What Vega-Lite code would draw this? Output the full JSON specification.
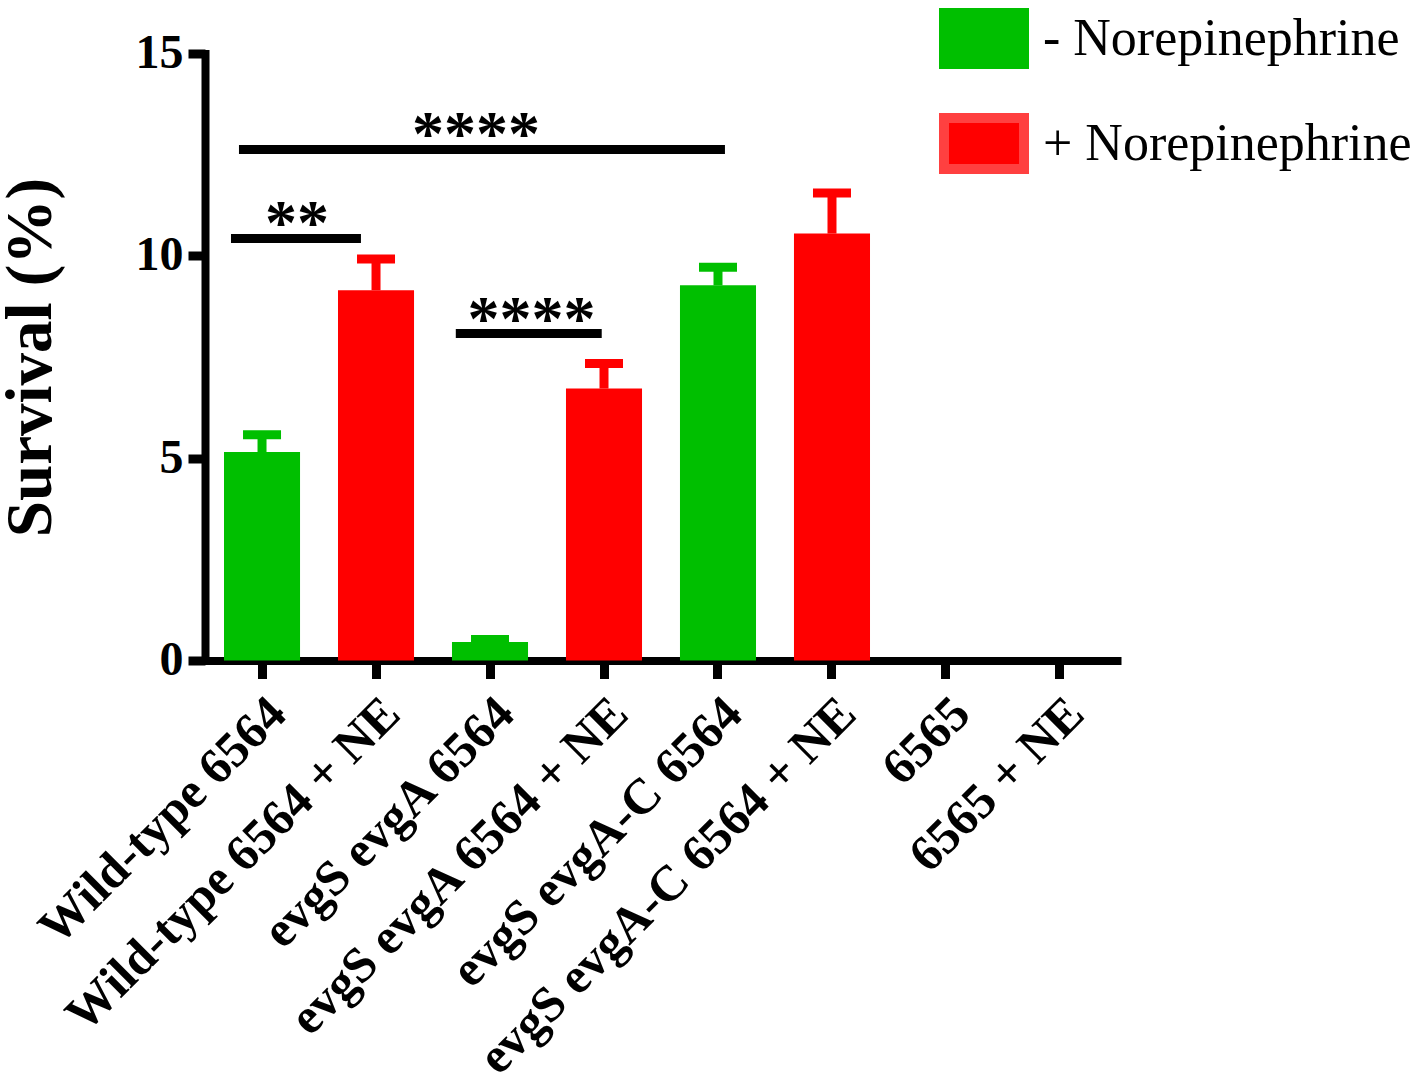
{
  "$schema": "https://vega.github.io/schema/vega-lite/v6.json",
  "autosize": "none",
  "width": 912,
  "height": 607,
  "padding": {"left": 205, "top": 53.5, "right": 306, "bottom": 415.5},
  "background": "white",
  "config": {
    "view": {"stroke": null},
    "font": "Liberation Serif",
    "axis": {"domainColor": "black", "domainWidth": 8, "tickColor": "black", "tickWidth": 9, "grid": false, "labelColor": "black", "titleColor": "black", "labelFont": "Liberation Serif", "titleFont": "Liberation Serif", "labelFontWeight": "bold", "titleFontWeight": "bold", "domainCap": "square"}
  },
  "datasets": {
    "bars": [
      {"strain": "Wild-type 6564", "cond": "- Norepinephrine", "value": 5.15, "upper": 5.58},
      {"strain": "Wild-type 6564 + NE", "cond": "+ Norepinephrine", "value": 9.15, "upper": 9.92},
      {"strain": "evgS evgA 6564", "cond": "- Norepinephrine", "value": 0.46, "upper": 0.52},
      {"strain": "evgS evgA 6564 + NE", "cond": "+ Norepinephrine", "value": 6.72, "upper": 7.34},
      {"strain": "evgS evgA-C 6564", "cond": "- Norepinephrine", "value": 9.27, "upper": 9.72},
      {"strain": "evgS evgA-C 6564 + NE", "cond": "+ Norepinephrine", "value": 10.55, "upper": 11.55},
      {"strain": "6565", "cond": "- Norepinephrine", "value": 0, "upper": null},
      {"strain": "6565 + NE", "cond": "+ Norepinephrine", "value": 0, "upper": null}
    ],
    "sig": [
      {"x1": 0.228, "x2": 1.368, "y": 10.43, "stars": "**", "xm": 0.807},
      {"x1": 0.298, "x2": 4.561, "y": 12.63, "stars": "****", "xm": 2.377},
      {"x1": 2.2, "x2": 3.48, "y": 8.08, "stars": "****", "xm": 2.864}
    ]
  },
  "layer": [
    {
      "data": {"name": "bars"},
      "layer": [
        {
          "mark": {"type": "bar"},
          "encoding": {
            "x": {"field": "strain", "type": "nominal", "sort": null,
              "scale": {"paddingInner": 0.333, "paddingOuter": 0.1667},
              "axis": {"title": null, "labelAngle": -45, "labelAlign": "right", "labelBaseline": "middle", "labelFontSize": 50, "tickSize": 18, "labelPadding": 27, "labelOffset": 16, "labelLimit": 0}},
            "y": {"field": "value", "type": "quantitative",
              "scale": {"domain": [0, 15], "nice": false, "zero": true},
              "axis": {"values": [0, 5, 10, 15], "title": "Survival (%)", "titleFontSize": 65, "titleX": -175, "titleBaseline": "middle", "labelFontSize": 48, "tickSize": 17, "labelPadding": 5}},
            "color": {"field": "cond", "type": "nominal",
              "scale": {"domain": ["- Norepinephrine", "+ Norepinephrine"], "range": ["#00bf00", "#ff0000"]},
              "legend": {"title": null, "orient": "none", "legendX": 734, "legendY": -60, "padding": 0,
                "symbolType": "M-1,-0.6375H1V0.6375H-1Z", "symbolSize": 6400, "symbolStrokeWidth": 10, "symbolOpacity": 1,
                "labelFont": "Liberation Serif", "labelFontSize": 52, "labelFontWeight": "normal", "labelColor": "black",
                "labelOffset": 14, "rowPadding": 13, "labelLimit": 0,
                "encode": {"symbols": {"update": {"stroke": {"signal": "datum.value === '+ Norepinephrine' ? '#ff4040' : '#00bf00'"}, "fillOpacity": {"value": 1}}}}}}
          }
        },
        {
          "mark": {"type": "rule", "strokeWidth": 9},
          "encoding": {
            "x": {"field": "strain", "type": "nominal", "sort": null},
            "y": {"field": "value", "type": "quantitative"},
            "y2": {"field": "upper"},
            "color": {"condition": {"test": "datum.cond === '+ Norepinephrine'", "value": "#ff0000"}, "value": "#00bf00"}
          }
        },
        {
          "mark": {"type": "tick", "thickness": 9, "size": 38, "opacity": 1},
          "encoding": {
            "x": {"field": "strain", "type": "nominal", "sort": null},
            "y": {"field": "upper", "type": "quantitative"},
            "color": {"condition": {"test": "datum.cond === '+ Norepinephrine'", "value": "#ff0000"}, "value": "#00bf00"}
          }
        }
      ]
    },
    {
      "data": {"name": "sig"},
      "layer": [
        {
          "mark": {"type": "rule", "strokeWidth": 9, "color": "black"},
          "encoding": {
            "x": {"field": "x1", "type": "quantitative", "scale": {"domain": [0, 8], "nice": false, "zero": false}, "axis": null},
            "x2": {"field": "x2"},
            "y": {"field": "y", "type": "quantitative"}
          }
        },
        {
          "mark": {"type": "text", "font": "Liberation Serif", "fontWeight": "bold", "fontSize": 64, "baseline": "alphabetic", "align": "center", "dy": 6, "color": "black"},
          "encoding": {
            "x": {"field": "xm", "type": "quantitative", "axis": null},
            "y": {"field": "y", "type": "quantitative"},
            "text": {"field": "stars"}
          }
        }
      ]
    }
  ],
  "resolve": {"scale": {"x": "independent"}}
}
